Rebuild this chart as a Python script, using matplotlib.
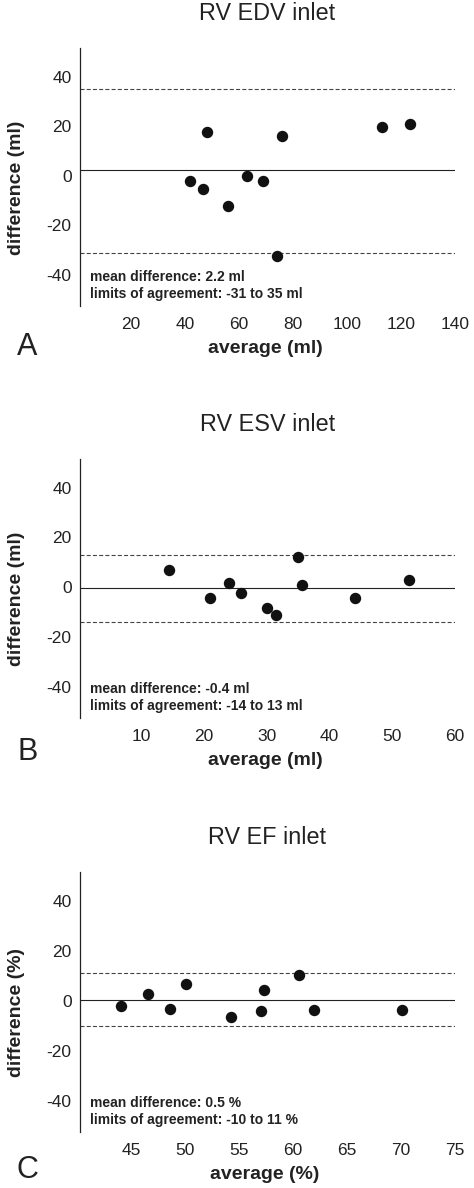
import matplotlib
matplotlib.use('Agg')
import matplotlib.pyplot as plt

plt.rcParams['font.family'] = ['Liberation Sans', 'DejaVu Sans']
plt.rcParams['axes.unicode_minus'] = False

# RV EDV inlet (ml)
edv_avg = [41.8, 46.5, 48.0, 55.9, 62.9, 68.9, 73.9, 75.8, 112.8, 123.2]
edv_diff = [-2.1, -5.2, 17.8, -12.2, -0.1, -2.1, -32.3, 15.9, 19.8, 20.9]
edv_mean, edv_lo, edv_hi = 2.2, -31, 35

# RV ESV inlet (ml)
esv_avg = [14.5, 21.0, 24.0, 26.0, 30.0, 31.5, 35.0, 35.6, 44.1, 52.6]
esv_diff = [6.9, -4.3, 1.8, -2.3, -8.4, -11.3, 12.0, 0.8, -4.3, 2.8]
esv_mean, esv_lo, esv_hi = -0.4, -14, 13

# RV EF inlet (%)
ef_avg = [44.1, 46.6, 48.6, 50.1, 54.3, 57.0, 57.3, 60.6, 61.9, 70.1]
ef_diff = [-2.0, 2.7, -3.2, 6.9, -6.4, -4.0, 4.5, 10.2, -3.5, -3.5]
ef_mean, ef_lo, ef_hi = 0.5, -10, 11

yticks = [-40, -20, 0, 20, 40]

panels = [
    dict(title='RV EDV inlet', x=edv_avg, y=edv_diff, mean=edv_mean, lo=edv_lo, hi=edv_hi,
         xticks=[20, 40, 60, 80, 100, 120, 140], xlim=(1.1, 140), unit='ml', letter='A',
         top=48, bottom=306, letter_y=355),
    dict(title='RV ESV inlet', x=esv_avg, y=esv_diff, mean=esv_mean, lo=esv_lo, hi=esv_hi,
         xticks=[10, 20, 30, 40, 50, 60], xlim=(0.3, 60), unit='ml', letter='B',
         top=459, bottom=718, letter_y=760),
    dict(title='RV EF inlet', x=ef_avg, y=ef_diff, mean=ef_mean, lo=ef_lo, hi=ef_hi,
         xticks=[45, 50, 55, 60, 65, 70, 75], xlim=(40.28, 75), unit='%', letter='C',
         top=872, bottom=1132, letter_y=1178),
]

W, H = 474, 1188
fig = plt.figure(figsize=(W / 100, H / 100), dpi=100)
txt = '#222222'

for p in panels:
    left, right = 80, 455
    ax = fig.add_axes([left / W, 1 - p['bottom'] / H, (right - left) / W, (p['bottom'] - p['top']) / H])
    ax.set_xlim(*p['xlim'])
    ax.set_ylim(-52.5, 51.5)

    ax.axhline(p['mean'], color='#222222', lw=0.8)
    for v in (p['lo'], p['hi']):
        ax.axhline(v, color='#444444', lw=0.8, dashes=(3.6, 2.0))
    ax.plot(p['x'], p['y'], 'o', color='#111111', markersize=7.2, zorder=3)

    for s in ('top', 'right', 'bottom'):
        ax.spines[s].set_visible(False)
    ax.spines['left'].set_color('#222222')
    ax.spines['left'].set_linewidth(0.9)

    ax.set_xticks(p['xticks'])
    ax.set_yticks(yticks)
    ax.tick_params(axis='both', length=0, labelsize=12.5, labelcolor=txt)
    ax.tick_params(axis='x', pad=8)
    ax.tick_params(axis='y', pad=6)

    ax.set_title(p['title'], fontsize=16.8, color=txt, y=1.1, va='center')
    ax.set_ylabel('difference (' + p['unit'] + ')', fontsize=14, fontweight='bold', color=txt)
    ax.yaxis.set_label_coords(-0.147, 0.46)
    ax.set_xlabel('average (' + p['unit'] + ')', fontsize=14, fontweight='bold', color=txt, va='center')
    ax.xaxis.set_label_coords(0.493, -0.163)

    sp = ' ' + p['unit']
    ax.text(0.027, 0.112, 'mean difference: %s%s' % (p['mean'], sp), transform=ax.transAxes,
            fontsize=10, fontweight='bold', color=txt, va='center')
    ax.text(0.027, 0.047, 'limits of agreement: %d to %d%s' % (p['lo'], p['hi'], sp),
            transform=ax.transAxes, fontsize=10, fontweight='bold', color=txt, va='center')

    fig.text(17 / W, 1 - p['letter_y'] / H, p['letter'], fontsize=22, color=txt, va='baseline')

fig.savefig('out.png', dpi=100, facecolor='white')
